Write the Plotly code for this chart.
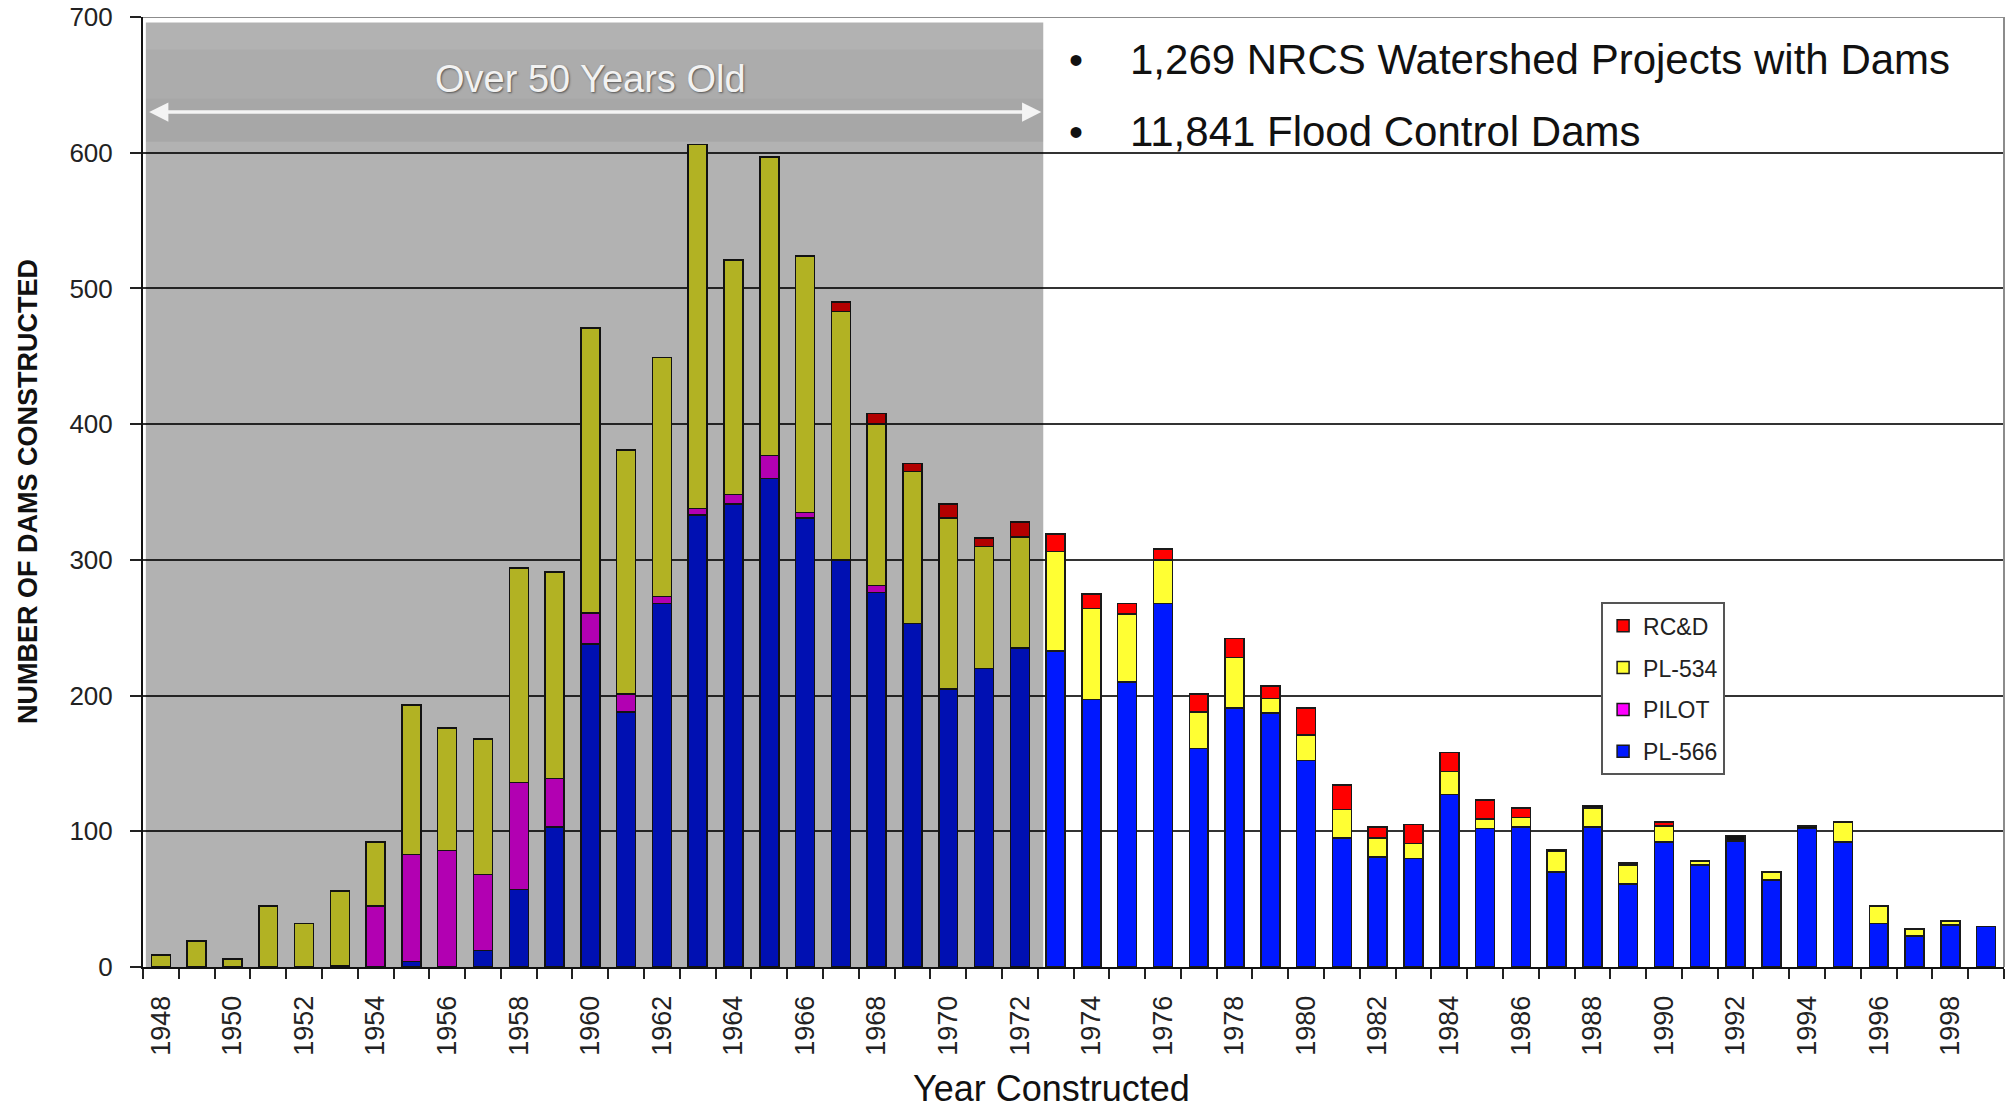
import plotly.graph_objects as go

# ---------------- data ----------------
years = list(range(1948, 2000))

pl566 = [0, 0, 0, 0, 0, 1, 0, 4, 0, 12,
         57, 103, 238, 188, 268, 333, 341, 360, 331, 300,
         276, 253, 205, 220, 235, 233, 197, 210, 268, 161,
         191, 187, 152, 95, 81, 80, 127, 102, 103, 70,
         103, 61, 92, 75, 93, 64, 102, 92, 32, 23,
         31, 30]
pilot = [0, 0, 0, 0, 0, 0, 45, 79, 86, 56,
         79, 36, 23, 13, 5, 5, 7, 17, 4, 0,
         5, 0, 0, 0, 0, 0, 0, 0, 0, 0,
         0, 0, 0, 0, 0, 0, 0, 0, 0, 0,
         0, 0, 0, 0, 0, 0, 0, 0, 0, 0,
         0, 0]
pl534 = [9, 19, 6, 45, 32, 55, 47, 110, 90, 100,
         158, 152, 210, 180, 176, 268, 173, 220, 189, 183,
         119, 112, 126, 90, 82, 73, 67, 50, 32, 27,
         37, 11, 19, 21, 14, 11, 17, 7, 7, 15,
         14, 14, 12, 3, 0, 6, 0, 15, 13, 5,
         3, 0]
rcd = [0, 0, 0, 0, 0, 0, 0, 0, 0, 0,
       0, 0, 0, 0, 0, 0, 0, 0, 0, 7,
       8, 6, 10, 6, 11, 13, 11, 8, 8, 13,
       14, 9, 20, 18, 8, 14, 14, 14, 7, 0,
       0, 0, 3, 0, 0, 0, 0, 0, 0, 0,
       0, 0]
other = [0, 0, 0, 0, 0, 0, 0, 0, 0, 0,
         0, 0, 0, 0, 0, 0, 0, 0, 0, 0,
         0, 0, 0, 0, 0, 0, 0, 0, 0, 0,
         0, 0, 0, 0, 0, 0, 0, 0, 0, 1.5,
         2, 1.5, 0, 0, 4, 0, 2, 0, 0, 0,
         0, 0]

y_ticks = [0, 100, 200, 300, 400, 500, 600, 700]
x_label_years = list(range(1948, 2000, 2))

# ---------------- styling ----------------
FONT = "Liberation Sans, Arial, Helvetica, sans-serif"
# name, values, colour, in legend, legend rank
series = [
    ("PL-566", pl566, "#0018FF", True, 4),
    ("PILOT", pilot, "#FF00FF", True, 3),
    ("PL-534", pl534, "#FFFF33", True, 2),
    ("RC&D", rcd, "#FF0000", True, 1),
    ("OTHER", other, "#111111", False, 5),
]

fig = go.Figure()
for name, vals, color, show, rank in series:
    fig.add_trace(go.Bar(
        x=years,
        y=[v if v else None for v in vals],
        name=name,
        legendgroup=name,
        legendrank=rank,
        showlegend=show,
        marker=dict(color=color, line=dict(color="#1a1a1a", width=1.5)),
    ))

L, R, T, B = 143, 4, 17, 141
W, H = 2008, 1108

fig.update_layout(
    width=W, height=H,
    margin=dict(l=L, r=R, t=T, b=B, pad=0, autoexpand=False),
    barmode="stack",
    bargap=0.47,
    plot_bgcolor="white",
    paper_bgcolor="white",
    font=dict(family=FONT, color="#222222"),
    legend=dict(
        x=0.7835, y=0.384, xanchor="left", yanchor="top",
        bgcolor="white", bordercolor="#555555", borderwidth=2,
        font=dict(family=FONT, size=23, color="#222222"),
        traceorder="grouped", tracegroupgap=9,
        itemwidth=30,
    ),
)

fig.update_xaxes(
    type="linear",
    automargin=False,
    range=[1947.5, 1999.5],
    tickmode="array",
    tickvals=x_label_years,
    ticktext=[str(y) for y in x_label_years],
    tickangle=-90,
    ticks="",
    ticklabelstandoff=16,
    tickfont=dict(family=FONT, size=27, color="#222222"),
    showgrid=False,
    zeroline=False,
    showline=True, linecolor="#111111", linewidth=2,
    minor=dict(ticks="outside", tick0=1947.5, dtick=1, ticklen=10,
               tickwidth=2, tickcolor="#222222", showgrid=False),
)
fig.update_yaxes(
    automargin=False,
    range=[0, 700],
    tickmode="array",
    tickvals=y_ticks,
    ticks="outside", ticklen=11, tickwidth=2, tickcolor="#222222",
    ticklabelstandoff=12,
    ticklabeloverflow="allow",
    tickfont=dict(family=FONT, size=26, color="#222222"),
    showgrid=True, gridcolor="#333333", gridwidth=2,
    zeroline=False,
    showline=True, linecolor="#111111", linewidth=2,
)

# "Over 50 years old" shaded region and frame
fig.add_shape(type="rect", xref="x", yref="y", x0=1947.58, x1=1972.655, y0=0, y1=696,
              fillcolor="rgba(0,0,0,0.30)", line=dict(width=0), layer="above")
fig.add_shape(type="rect", xref="x", yref="y", x0=1947.58, x1=1972.655, y0=640, y1=676,
              fillcolor="rgba(0,0,0,0.03)", line=dict(width=0), layer="above")
fig.add_shape(type="rect", xref="x", yref="y", x0=1947.58, x1=1972.655, y0=608, y1=640,
              fillcolor="rgba(0,0,0,0.06)", line=dict(width=0), layer="above")
fig.add_shape(type="line", xref="paper", yref="y", x0=0, x1=1, y0=700, y1=700,
              line=dict(color="#8c8c8c", width=2), layer="above")
fig.add_shape(type="line", xref="paper", yref="y", x0=1, x1=1, y0=0, y1=700,
              line=dict(color="#8c8c8c", width=2), layer="above")

# double arrow
fig.add_annotation(x=1972.6, y=630, ax=1947.63, ay=630, xref="x", yref="y",
                   axref="x", ayref="y", text="", showarrow=True,
                   arrowside="end+start", arrowhead=2, startarrowhead=2,
                   arrowsize=1.1, startarrowsize=1.1, arrowwidth=3.5,
                   arrowcolor="#f4f4f4", standoff=0, startstandoff=0)
fig.add_annotation(x=1960, y=654, xref="x", yref="y", text="Over 50 Years Old",
                   showarrow=False,
                   font=dict(family=FONT, size=38, color="#f2f2f2",
                             shadow="1px 1px 2px #555555"))

# bullet text
bullet_y = [0.955, 0.879]
bullet_txt = ["1,269 NRCS Watershed Projects with Dams", "11,841 Flood Control Dams"]
for by, bt in zip(bullet_y, bullet_txt):
    fig.add_annotation(x=0.5013, y=by, xref="paper", yref="paper", text="•",
                       showarrow=False, xanchor="center", yanchor="middle",
                       font=dict(family=FONT, size=40, color="#111111"))
    fig.add_annotation(x=0.5293, y=by, xref="paper", yref="paper", text=bt,
                       showarrow=False, xanchor="left", yanchor="middle",
                       font=dict(family=FONT, size=42, color="#111111"))

# axis titles
fig.add_annotation(x=0.488, y=-0.1277, xref="paper", yref="paper",
                   text="Year Constructed", showarrow=False,
                   xanchor="center", yanchor="middle",
                   font=dict(family=FONT, size=36, color="#111111"))
fig.add_annotation(x=-0.0618, y=0.501, xref="paper", yref="paper",
                   text="<b>NUMBER OF DAMS CONSTRUCTED</b>", showarrow=False,
                   textangle=-90, xanchor="center", yanchor="middle",
                   font=dict(family=FONT, size=27, color="#111111"))

# remove the browser's default 8px page margin so the figure fills the window
fig.write_html("out.html", config={"displayModeBar": False},
               post_script="document.body.style.margin='0px';")
